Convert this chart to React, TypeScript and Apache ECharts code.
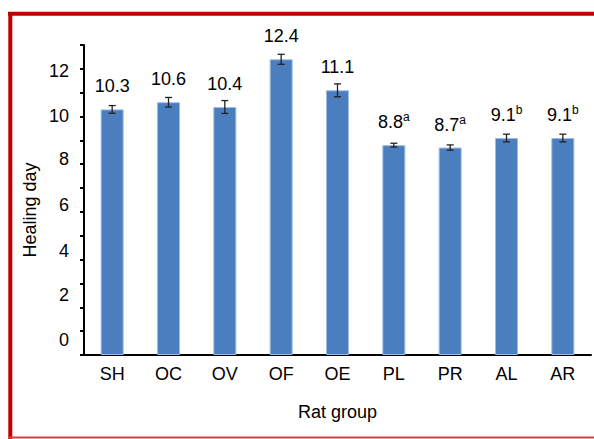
import React, { useEffect, useRef } from "react";
import * as echarts from "echarts";

const categories = ["SH", "OC", "OV", "OF", "OE", "PL", "PR", "AL", "AR"];
const means = [10.3, 10.6, 10.4, 12.4, 11.1, 8.8, 8.7, 9.1, 9.1];
const errors = [0.16, 0.2, 0.27, 0.21, 0.27, 0.08, 0.11, 0.16, 0.16];
const superscripts = ["", "", "", "", "", "a", "a", "b", "b"];
const yTicks = [0, 2, 4, 6, 8, 10, 12];

// vertical drift of the tick labels in the original figure (px, + = down)
const labelShift: Record<number, number> = { 12: 2, 10: -1, 8: -5, 6: -7, 4: -9, 2: -12, 0: -15 };

export default function App() {
  const ref = useRef<HTMLDivElement>(null);
  useEffect(() => {
    document.body.style.margin = "0";
    const chart = echarts.init(ref.current!, null, { renderer: "svg" });
    const font = "'Liberation Sans', Arial, sans-serif";
    const rich: Record<string, any> = {};
    yTicks.forEach((t) => {
      const d = labelShift[t] || 0;
      rich["t" + t] = {
        fontFamily: font,
        fontSize: 18,
        color: "#000",
        padding: d >= 0 ? [2 * d, 0, 0, 0] : [0, 0, -2 * d, 0],
      };
    });
    chart.setOption({
      animation: false,
      backgroundColor: "#ffffff",
      grid: { left: 84, right: 3, top: 45, bottom: 84, containLabel: false },
      xAxis: {
        type: "category",
        data: categories,
        name: "Rat group",
        nameLocation: "middle",
        nameGap: 48,
        nameTextStyle: { fontFamily: font, fontSize: 18, color: "#000" },
        axisLine: { lineStyle: { color: "#000", width: 2 } },
        axisTick: { show: false },
        axisLabel: { fontFamily: font, fontSize: 18, color: "#000", margin: 10 },
      },
      yAxis: {
        type: "value",
        min: 0,
        max: 13,
        interval: 1,
        axisLine: { show: true, lineStyle: { color: "#000", width: 2 } },
        axisTick: { show: true, length: 4, lineStyle: { color: "#000", width: 2 } },
        splitLine: { show: false },
        axisLabel: {
          fontFamily: font,
          fontSize: 18,
          color: "#000",
          margin: 15,
          formatter: (v: number) => (yTicks.includes(v) ? `{t${v}|${v}}` : ""),
          rich,
        },
      },
      series: [
        {
          type: "bar",
          data: means,
          barWidth: 23,
          itemStyle: { color: "#4a7ebf", borderColor: "#9dbbe3", borderWidth: 1 },
          label: {
            show: true,
            position: "top",
            distance: 12,
            fontFamily: font,
            color: "#000",
            formatter: (p: any) => {
              const s = superscripts[p.dataIndex];
              const v = means[p.dataIndex].toFixed(1);
              return s ? `{v|${v}}{s|${s}}` : `{v|${v}}`;
            },
            rich: {
              v: { fontFamily: font, fontSize: 18, color: "#000", lineHeight: 22 },
              s: { fontFamily: font, fontSize: 12, color: "#000", lineHeight: 12, verticalAlign: "top" },
            },
          },
          z: 2,
        },
        {
          type: "custom",
          data: means.map((m, i) => [i, m - errors[i], m + errors[i]]),
          z: 5,
          renderItem: (params: any, api: any) => {
            const x = api.value(0);
            const lo = api.coord([x, api.value(1)]);
            const hi = api.coord([x, api.value(2)]);
            const cap = 3.5;
            const style = { stroke: "#222", lineWidth: 1.3 };
            return {
              type: "group",
              children: [
                { type: "line", shape: { x1: hi[0], y1: hi[1], x2: lo[0], y2: lo[1] }, style },
                { type: "line", shape: { x1: hi[0] - cap, y1: hi[1], x2: hi[0] + cap, y2: hi[1] }, style },
                { type: "line", shape: { x1: lo[0] - cap, y1: lo[1], x2: lo[0] + cap, y2: lo[1] }, style },
              ],
            };
          },
        },
      ],
      graphic: [
        { type: "line", shape: { x1: 8, y1: 13.7, x2: 594, y2: 13.7 }, style: { stroke: "#c00000", lineWidth: 4 } },
        { type: "line", shape: { x1: 10.3, y1: 12, x2: 10.3, y2: 439 }, style: { stroke: "#c00000", lineWidth: 4 } },
        { type: "line", shape: { x1: 8, y1: 437.5, x2: 594, y2: 437.5 }, style: { stroke: "#e03a3a", lineWidth: 2 } },
        {
          type: "text",
          x: 30,
          y: 210,
          rotation: Math.PI / 2,
          style: { text: "Healing day", fontFamily: font, fontSize: 18, fill: "#000", align: "center", verticalAlign: "middle" },
        },
      ],
    });
    return () => chart.dispose();
  }, []);
  return <div ref={ref} style={{ width: 594, height: 439 }} />;
}
